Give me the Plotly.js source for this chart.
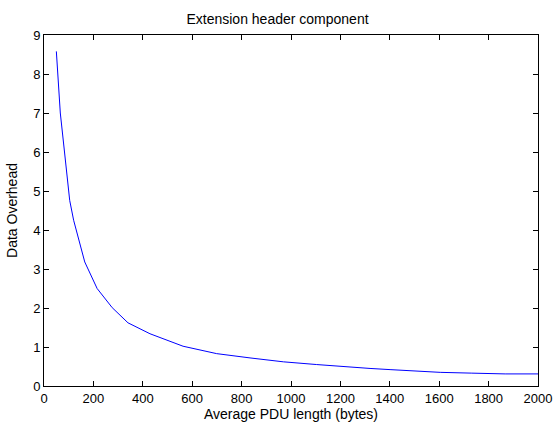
<!DOCTYPE html>
<html>
<head>
<meta charset="utf-8">
<script src="https://cdn.plot.ly/plotly-3.0.1.min.js"></script>
<style>html,body{margin:0;padding:0;background:#fff;}#chart{width:555px;height:422px;}</style>
</head>
<body>
<div id="chart"></div>
<script>
// Average PDU length (bytes)
var pduLength = [50, 55.5, 66, 83, 99, 104, 120, 165, 215, 276, 340, 395, 429, 563, 699, 834, 969, 1104, 1198, 1246, 1320, 1401, 1489, 1604, 1732, 1867, 2000];
// Data overhead
var overhead = [8.58, 8.0, 7.0, 6.0, 5.0, 4.76, 4.25, 3.18, 2.50, 2.01, 1.62, 1.45, 1.34, 1.02, 0.83, 0.72, 0.62, 0.55, 0.505, 0.47, 0.45, 0.42, 0.385, 0.35, 0.33, 0.31, 0.31];
var xTicks = [0, 200, 400, 600, 800, 1000, 1200, 1400, 1600, 1800, 2000];
var yTicks = [0, 1, 2, 3, 4, 5, 6, 7, 8, 9];

var tickFont = {family: 'Liberation Sans, Arial, sans-serif', size: 13, color: '#000'};
var titleFont = {family: 'Liberation Sans, Arial, sans-serif', size: 14, color: '#000'};

var trace = {
  x: pduLength, y: overhead, type: 'scatter', mode: 'lines',
  line: {color: '#0000ff', width: 1}, hoverinfo: 'skip'
};

var axisCommon = {
  showgrid: false, zeroline: false, showline: true, linecolor: '#000', linewidth: 1,
  mirror: 'ticks', ticks: 'inside', ticklen: 5, tickcolor: '#000', tickwidth: 1,
  tickfont: tickFont
};

var layout = {
  width: 555, height: 422,
  margin: {l: 44, r: 17, t: 35, b: 36},
  paper_bgcolor: '#fff', plot_bgcolor: '#fff',
  showlegend: false,
  font: tickFont,
  title: {text: 'Extension header component', font: titleFont, x: 0.5, xanchor: 'center', y: 0.955, yanchor: 'middle'},
  xaxis: Object.assign({}, axisCommon, {
    range: [0, 2000], tickvals: xTicks, ticktext: xTicks.map(String),
    title: {text: 'Average PDU length (bytes)', font: titleFont, standoff: 1}
  }),
  yaxis: Object.assign({}, axisCommon, {
    range: [0, 9], tickvals: yTicks, ticktext: yTicks.map(String),
    title: {text: 'Data Overhead', font: titleFont, standoff: 12}
  })
};

Plotly.newPlot('chart', [trace], layout, {displayModeBar: false, staticPlot: true});
</script>
</body>
</html>
